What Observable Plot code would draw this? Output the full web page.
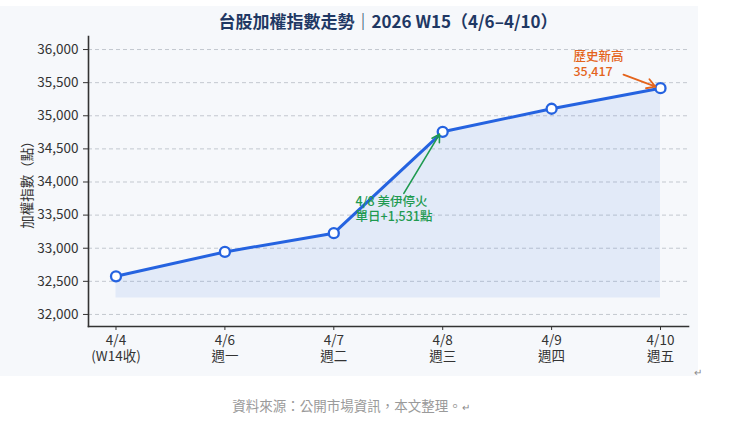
<!DOCTYPE html>
<html>
<head>
<meta charset="utf-8">
<script src="https://cdn.jsdelivr.net/npm/d3@7"></script>
<script src="https://cdn.jsdelivr.net/npm/@observablehq/plot@0.6"></script>
<style>
  html, body { margin: 0; padding: 0; background: #fff; }
  body { font-family: "Noto Sans CJK TC", "Noto Sans", sans-serif; }
  #wrap { position: relative; width: 740px; height: 421px; overflow: hidden; }
  #bg { position: absolute; left: 0; top: 6px; width: 698px; height: 370px; background: #f6f8fb; }
  #title { position: absolute; left: 0; width: 776px; top: 9px; text-align: center; font-size: 17px; font-weight: bold; color: #1f3864; line-height: 24px; }
  #chart { position: absolute; left: 0; top: 0; }
  #caption { position: absolute; left: 0; width: 702px; top: 395px; text-align: center; font-size: 13.5px; color: #9a9a9a; line-height: 20px; }
  .pm { color: #888; font-size: 10px; }
  #pm1 { position: absolute; left: 694px; top: 364px; font-size: 10px; color: #888; }
</style>
</head>
<body>
<div id="wrap">
  <div id="bg"></div>
  <div id="chart"></div>
  <div id="title">台股加權指數走勢｜2026 W15（4/6–4/10）</div>
  <div id="caption">資料來源：公開市場資訊，本文整理。<span class="pm">↵</span></div>
  <div id="pm1">↵</div>
</div>
<script>
// ---- data ----
const dates = ["4/4", "4/6", "4/7", "4/8", "4/9", "4/10"];
const dayLabels = ["(W14收)", "週一", "週二", "週三", "週四", "週五"];
const closes = [32576, 32944, 33227, 34758, 35106, 35417];
const yTicks = [32000, 32500, 33000, 33500, 34000, 34500, 35000, 35500, 36000];
const areaBase = 32250;

// annotations (data coordinates: x = day index, y = index points)
const greenLines = ["4/8 美伊停火", "單日+1,531點"];
const greenLineY = [33700, 33470];
const greenX = 2.2;
const greenArrow = [2.643, 33829, 2.971, 34723];
const orangeLines = ["歷史新高", "35,417"];
const orangeLineY = [35880, 35655];
const orangeX = 4.2;
const orangeArrow = [4.66, 35621, 4.954, 35439];

const rows = dates.map((d, i) => ({i, date: d, day: dayLabels[i], v: closes[i]}));

const blue = "#2563e0";
const green = "#1e9a50";
const orange = "#e4641c";
const font = "Noto Sans CJK TC";

const chart = Plot.plot({
  width: 740,
  height: 421,
  marginLeft: 88,
  marginRight: 52,
  marginTop: 36,
  marginBottom: 95,
  style: {background: "transparent", fontFamily: font, color: "#333", overflow: "visible"},
  x: {type: "linear", domain: [-0.2525, 5.257]},
  y: {domain: [31818, 36197]},
  marks: [
    Plot.gridY(yTicks, {stroke: "#c3c8cf", strokeOpacity: 1, strokeDasharray: "4,3", strokeWidth: 1}),
    Plot.areaY(rows, {x: "i", y1: () => areaBase, y2: "v", fill: blue, fillOpacity: 0.09}),
    Plot.lineY(rows, {x: "i", y: "v", stroke: blue, strokeWidth: 3}),
    Plot.dot(rows, {x: "i", y: "v", r: 5, fill: "white", stroke: blue, strokeWidth: 2.3}),
    Plot.arrow([greenArrow], {x1: d => d[0], y1: d => d[1], x2: d => d[2], y2: d => d[3], stroke: green, strokeWidth: 1.6, headLength: 8, bend: 0}),
    Plot.arrow([orangeArrow], {x1: d => d[0], y1: d => d[1], x2: d => d[2], y2: d => d[3], stroke: orange, strokeWidth: 1.8, headLength: 8, bend: 0}),
    Plot.text(greenLines, {x: () => greenX, y: (d, i) => greenLineY[i], text: d => d, fill: green, fontSize: 12.5, fontWeight: 500, textAnchor: "start"}),
    Plot.text(orangeLines, {x: () => orangeX, y: (d, i) => orangeLineY[i], text: d => d, fill: orange, fontSize: 12.5, fontWeight: 500, textAnchor: "start"}),
    Plot.axisY({ticks: yTicks, tickFormat: d3.format(","), tickSize: 5, tickPadding: 5, fontSize: 13.5, stroke: "#333",
      label: "加權指數（點）", labelAnchor: "center", labelArrow: "none", labelOffset: 66}),
    Plot.axisX({ticks: rows.map(r => r.i), tickFormat: i => dates[i], tickSize: 4, tickPadding: 5,
      fontSize: 13.5, stroke: "#333", label: null}),
    Plot.axisX({ticks: rows.map(r => r.i), tickFormat: i => dayLabels[i], tickSize: 0, tickPadding: 25,
      fontSize: 13.5, stroke: "#333", label: null}),
    Plot.frame({anchor: "left", stroke: "#333", strokeWidth: 1.6}),
    Plot.frame({anchor: "bottom", stroke: "#333", strokeWidth: 1.6})
  ]
});
document.getElementById("chart").appendChild(chart);
</script>
</body>
</html>
